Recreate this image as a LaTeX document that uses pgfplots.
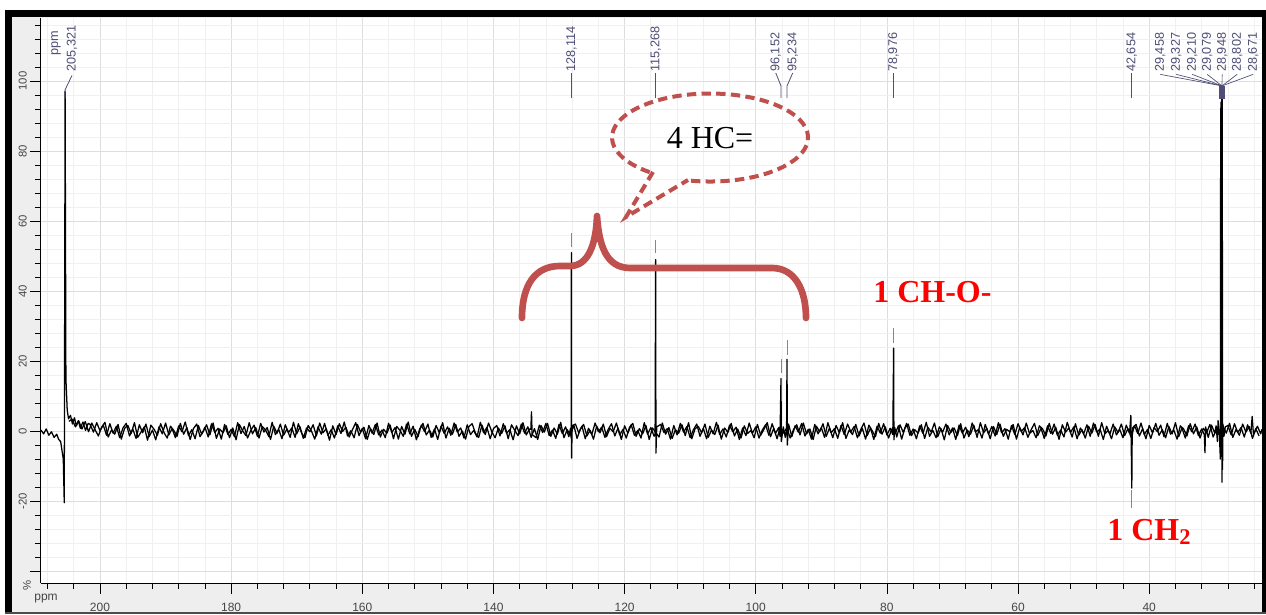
\documentclass[border=0pt]{standalone}
\usepackage{pgfplots}
\pgfplotsset{compat=1.18}
\usepackage{fontspec}
\setmainfont{Liberation Sans}
\newfontfamily\timesfont{Liberation Serif}
\definecolor{lab}{RGB}{78,78,118}
\definecolor{labpale}{RGB}{130,130,170}
\definecolor{brace}{RGB}{192,80,77}
\definecolor{panel}{RGB}{238,238,238}
\definecolor{ticklab}{RGB}{70,70,70}
\tikzset{
  plab/.style={rotate=90, anchor=west, inner sep=0pt, text=lab, font=\fontsize{9.5}{10}\selectfont},
  px/.style={x=0.75pt, y=-0.75pt, shift={(-30.75pt,437.25pt)}}
}
\begin{document}
\begin{tikzpicture}
% frame of the screenshot (pixel coordinates)
\begin{scope}[px]
  \path[use as bounding box] (0,0) rectangle (1266,614);
  \fill[panel] (12,17) rectangle (1262,612);
  \fill[black] (5,10) rectangle (1266,17);
  \fill[black] (5,10) rectangle (12,614);
  \fill[black] (1262,10) rectangle (1266,614);
  \fill[black!70] (5,612) rectangle (1266,614);
\end{scope}

\begin{axis}[
    scale only axis,
    width=915.75pt, height=423.75pt,
    xmin=22.8, xmax=209, ymin=-43.4, ymax=118,
    x dir=reverse,
    clip=false,
    axis x line*=bottom, axis y line*=left,
    axis line style={-, black, line width=0.75pt},
    axis background/.style={fill=white},
    xtick={20,40,...,220}, minor x tick num=4,
    ytick={-60,-40,...,120}, minor y tick num=4,
    grid=both,
    major grid style={draw=black!13, line width=0.6pt},
    minor grid style={draw=black!6, line width=0.6pt},
    tick align=outside,
    major tick length=8.25pt, minor tick length=4.5pt,
    tick style={black, line width=0.6pt},
    /pgf/number format/assume math mode=true,
    yticklabel={\ifdim\tick pt<-30pt\else\pgfmathprintnumber{\tick}\fi},
    xticklabel style={anchor=north, inner sep=0pt, text=ticklab, font=\fontsize{9}{10}\selectfont},
    yticklabel style={rotate=90, anchor=south, inner sep=0pt, text=ticklab, font=\fontsize{8.5}{10}\selectfont},
    xticklabel shift=7pt,
    yticklabel shift=2.25pt,
  ]
% spectrum trace
\addplot[black, line width=0.95pt, line join=round] coordinates {
(209.0,0.3) (208.6,-0.8) (208.2,0.6) (207.8,-1.2) (207.4,-0.2) (207.0,-1.8) (206.6,-0.9) (206.3,-2.4) (206.0,-3.0)
(205.8,-5.5) (205.6,-8) (205.45,-20.5) (205.32,97) (205.2,15) (205.0,6) (204.8,3.5) (204.5,4.5) (204.2,2)
(203.9,3.8) (203.6,1.5) (203.3,3) (203.0,0.8) (202.6,2.6) (202.2,0.2) (201.8,2.2)
(201.5,1.9) (201.0,-0.3) (200.5,2.4) (200.0,0.1) (199.5,1.7) (199.0,-1.2) (198.5,2.1) (198.0,-0.6) (197.5,1.4) (197.0,-1.9)
(196.5,0.9) (196.0,2.2) (195.5,-1.4) (195.0,0.6) (194.5,-2.1) (194.0,1.8) (193.5,-0.5) (193.0,2.0) (192.5,-1.6) (192.0,0.3)
(191.5,-2.5) (191.0,1.2) (190.5,-0.8) (190.0,2.3) (189.5,-1.1) (189.0,0.7) (188.5,-1.9) (188.0,1.5) (187.5,-0.2) (187.0,2.6)
(186.5,-1.3) (186.0,0.4) (185.5,-2.2) (185.0,1.6) (184.5,-0.9) (184.0,1.1) (183.5,-1.7) (183.0,2.1) (182.5,-0.4) (182.0,0.8)
(181.5,-2.3) (181.0,1.9) (180.5,-1.0) (180.0,0.5) (179.5,-1.6) (179.0,2.4) (178.5,-0.7) (178.0,1.3) (177.5,-2.0) (177.0,0.2)
(176.5,1.7) (176.0,-1.5) (175.5,2.2) (175.0,-0.3) (174.5,1.0) (174.0,-2.4) (173.5,1.4) (173.0,-0.6) (172.5,2.0) (172.0,-1.2)
(171.5,0.6) (171.0,-1.8) (170.5,2.5) (170.0,-0.8) (169.5,1.2) (169.0,-2.1) (168.5,0.9) (168.0,-0.2) (167.5,1.8) (167.0,-1.4)
(166.5,2.3) (166.0,-0.5) (165.5,0.7) (165.0,-2.6) (164.5,1.5) (164.0,-1.0) (163.5,2.1) (163.0,-0.1) (162.5,1.1) (162.0,-1.7)
(161.5,0.4) (161.0,2.4) (160.5,-1.3) (160.0,0.8) (159.5,-2.2) (159.0,1.6) (158.5,-0.6) (158.0,1.9) (157.5,-1.1) (157.0,0.3)
(156.5,-1.9) (156.0,2.2) (155.5,-0.4) (155.0,1.0) (154.5,-2.3) (154.0,1.3) (153.5,-0.9) (153.0,2.6) (152.5,-1.5) (152.0,0.5)
(151.5,-1.6) (151.0,1.7) (150.5,-0.2) (150.0,2.0) (149.5,-1.8) (149.0,0.6) (148.5,-2.4) (148.0,1.4) (147.5,-0.7) (147.0,1.2)
(146.5,-1.2) (146.0,2.3) (145.5,-0.3) (145.0,0.9) (144.5,-2.0) (144.0,1.8) (143.5,-1.0) (143.0,0.2) (142.5,-1.7) (142.0,2.5)
(141.5,-0.5) (141.0,1.1) (140.5,-2.2) (140.0,0.7) (139.5,1.6) (139.0,-1.4) (138.5,2.1) (138.0,-0.6) (137.5,0.4) (137.0,-2.5)
(136.5,1.5) (136.0,-0.8) (135.5,2.4) (135.0,-1.1) (134.5,0.6)
(134.3,0.5) (134.2,5.5) (134.1,-1)
(133.5,-1.9) (133.0,1.7) (132.5,-0.4) (132.0,2.2) (131.5,-1.3) (131.0,0.3) (130.5,-2.1) (130.0,1.9) (129.5,-0.7) (129.0,1.2) (128.5,-1.6)
(128.25,0.8) (128.15,-2) (128.114,51) (128.08,-7.7) (128.0,1.5)
(127.5,2.0) (127.0,-0.5) (126.5,1.4) (126.0,-2.2) (125.5,0.8) (125.0,-1.0) (124.5,2.3) (124.0,-0.2) (123.5,1.1) (123.0,-1.8)
(122.5,0.5) (122.0,2.1) (121.5,-1.4) (121.0,0.9) (120.5,-2.4) (120.0,1.5) (119.5,-0.6) (119.0,1.8) (118.5,-1.2) (118.0,0.2)
(117.5,-2.0) (117.0,2.4) (116.5,-0.9) (116.0,1.0) (115.5,-1.5)
(115.35,-1) (115.268,49) (115.22,-6.3) (115.1,1.2)
(114.5,1.9) (114.0,-0.4) (113.5,0.7) (113.0,-2.3) (112.5,1.6) (112.0,-1.1) (111.5,2.2) (111.0,-0.3) (110.5,1.3) (110.0,-1.9)
(109.5,0.4) (109.0,2.0) (108.5,-1.5) (108.0,0.8) (107.5,-2.2) (107.0,1.4) (106.5,-0.8) (106.0,2.5) (105.5,-1.0) (105.0,0.6)
(104.5,-1.7) (104.0,1.7) (103.5,-0.2) (103.0,1.1) (102.5,-2.4) (102.0,0.9) (101.5,-1.3) (101.0,2.3) (100.5,-0.6) (100.0,1.2)
(99.5,-2.0) (99.0,0.3) (98.5,1.8) (98.0,-1.2) (97.5,2.1) (97.0,-0.7) (96.5,1.0)
(96.3,-1.5) (96.152,15) (96.1,-3) (95.8,1.2) (95.5,-1.8) (95.3,0.5) (95.234,20.5) (95.18,-4) (95.0,2)
(94.5,-1.6) (94.0,1.5) (93.5,-0.3) (93.0,2.2) (92.5,-1.4) (92.0,0.5) (91.5,-2.3) (91.0,1.9) (90.5,-0.8) (90.0,1.0)
(89.5,-1.8) (89.0,2.4) (88.5,-0.5) (88.0,0.7) (87.5,-2.1) (87.0,1.6) (86.5,-1.0) (86.0,2.0) (85.5,-0.2) (85.0,1.3)
(84.5,-1.9) (84.0,0.4) (83.5,2.3) (83.0,-1.3) (82.5,0.9) (82.0,-2.4) (81.5,1.4) (81.0,-0.6) (80.5,2.1) (80.0,-1.1) (79.5,0.8)
(79.1,-1) (78.976,23.7) (78.93,-2.5) (78.8,1)
(78.5,-1.7) (78.0,1.8) (77.5,-0.4) (77.0,2.2) (76.5,-1.2) (76.0,0.6) (75.5,-2.2) (75.0,1.5) (74.5,-0.7) (74.0,2.5)
(73.5,-1.5) (73.0,0.2) (72.5,-1.9) (72.0,1.2) (71.5,-0.3) (71.0,2.0) (70.5,-1.1) (70.0,0.9) (69.5,-2.4) (69.0,1.7)
(68.5,-0.6) (68.0,1.1) (67.5,-1.6) (67.0,2.3) (66.5,-0.2) (66.0,0.5) (65.5,-2.0) (65.0,1.9) (64.5,-0.9) (64.0,1.3)
(63.5,-1.4) (63.0,2.4) (62.5,-0.5) (62.0,0.7) (61.5,-2.3) (61.0,1.6) (60.5,-1.0) (60.0,2.1) (59.5,-0.1) (59.0,1.0)
(58.5,-1.8) (58.0,0.4) (57.5,2.2) (57.0,-1.3) (56.5,0.8) (56.0,-2.1) (55.5,1.5) (55.0,-0.7) (54.5,2.0) (54.0,-1.2)
(53.5,0.3) (53.0,-1.7) (52.5,2.5) (52.0,-0.4) (51.5,1.2) (51.0,-2.2) (50.5,0.9) (50.0,-0.8) (49.5,1.8) (49.0,-1.5)
(48.5,2.3) (48.0,-0.3) (47.5,0.6) (47.0,-2.4) (46.5,1.4) (46.0,-0.9) (45.5,2.0) (45.0,-1.1) (44.5,0.5) (44.0,-1.9)
(43.5,1.7) (43.0,-0.6)
(42.8,4.5) (42.654,-16.3) (42.6,-2) (42.5,1)
(42.0,1.9) (41.5,-1.4) (41.0,0.7) (40.5,-2.2) (40.0,1.6) (39.5,-0.5) (39.0,2.2) (38.5,-1.2) (38.0,0.4) (37.5,-1.9)
(37.0,1.3) (36.5,-0.8) (36.0,2.4) (35.5,-1.6) (35.0,0.9) (34.5,-2.0) (34.0,1.5) (33.5,-0.2) (33.0,2.0) (32.5,-1.3)
(32.0,0.6) (31.6,-1.0) (31.5,-6.2) (31.4,1.2) (31.0,-1.8) (30.5,1.7) (30.0,-0.6)
(29.8,1.5) (29.6,-3) (29.5,3) (29.3,-1) (29.15,-8) (29.1,90) (29.05,94) (29.0,-2) (28.95,97) (28.9,-14.6) (28.86,95)
(28.82,-11) (28.75,2) (28.6,-1.5) (28.4,1.2)
(28.0,1.6) (27.5,-1.1) (27.0,2.1) (26.5,-0.4) (26.0,1.0) (25.5,-1.7) (25.0,1.8) (24.5,-0.6) (24.3,4.2) (24.1,-1.0)
(23.5,1.4) (23.0,-0.8) (22.8,0.5)
};
% interleaved baseline noise (read between the points above)
\addplot[black, line width=0.95pt, line join=round] coordinates {
(204.75,2.8) (204.25,3.4) (203.75,1.2) (203.25,2.9) (202.75,0.6) (202.25,2.7) (201.75,-0.2) (201.25,2.3) (200.75,0.4) (200.25,-1.4)
(199.75,1.1) (199.25,2.5) (198.75,-1.7) (198.25,0.3) (197.75,-0.9) (197.25,1.9) (196.75,-2.3) (196.25,0.8) (195.75,1.6) (195.25,-0.7)
(194.75,2.4) (194.25,-1.8) (193.75,-0.3) (193.25,1.2) (192.75,-2.6) (192.25,1.7) (191.75,0.5) (191.25,-1.2) (190.75,2.1) (190.25,-0.4)
(189.75,-2.0) (189.25,1.4) (188.75,0.2) (188.25,-1.5) (187.75,2.2) (187.25,-0.9) (186.75,1.0) (186.25,-2.4) (185.75,0.7) (185.25,2.0)
(184.75,-1.6) (184.25,-0.1) (183.75,1.8) (183.25,-1.1) (182.75,2.3) (182.25,-2.1) (181.75,0.6) (181.25,-0.5) (180.75,1.5) (180.25,-1.9)
(179.75,0.9) (179.25,-2.5) (178.75,1.9) (178.25,0.1) (177.75,-1.3) (177.25,2.4) (176.75,-0.8) (176.25,1.0) (175.75,-2.0) (175.25,1.3)
(174.75,0.3) (174.25,-1.6) (173.75,2.5) (173.25,-1.0) (172.75,0.5) (172.25,-2.2) (171.75,1.8) (171.25,-0.4) (170.75,0.9) (170.25,-1.8)
(169.75,2.1) (169.25,-0.6) (168.75,-1.9) (168.25,1.6) (167.75,0.0) (167.25,-2.3) (166.75,1.2) (166.25,-0.9) (165.75,2.2) (165.25,-1.2)
(164.75,0.4) (164.25,-2.0) (163.75,1.5) (163.25,-0.7) (162.75,2.6) (162.25,-1.4) (161.75,0.1) (161.25,-1.9) (160.75,1.9) (160.25,-0.3)
(159.75,1.1) (159.25,-2.4) (158.75,0.7) (158.25,-1.0) (157.75,2.3) (157.25,-1.7) (156.75,0.5) (156.25,-0.6) (155.75,1.7) (155.25,-2.2)
(154.75,1.3) (154.25,0.2) (153.75,-1.5) (153.25,2.0) (152.75,-0.8) (152.25,1.4) (151.75,-2.5) (151.25,0.6) (150.75,2.2) (150.25,-1.1)
(149.75,0.3) (149.25,-1.7) (148.75,1.6) (148.25,-0.5) (147.75,2.4) (147.25,-2.0) (146.75,0.8) (146.25,-0.9) (145.75,1.9) (145.25,-1.5)
(144.75,0.0) (144.25,-2.3) (143.75,1.3) (143.25,2.1) (142.75,-0.6) (142.25,-1.8) (141.75,1.7) (141.25,-1.0) (140.75,2.3) (140.25,-0.2)
(139.75,-1.9) (139.25,0.9) (138.75,-0.7) (138.25,1.5) (137.75,-2.2) (137.25,1.8) (136.75,0.2) (136.25,-1.3) (135.75,2.0) (135.25,-0.6)
(134.75,1.2) (134.25,-1.8) (133.75,0.7) (133.25,-2.4) (132.75,1.6) (132.25,-0.3) (131.75,2.2) (131.25,-1.5) (130.75,0.9) (130.25,-0.9)
(129.75,2.5) (129.25,-1.9) (128.75,0.4) (128.25,-1.2) (127.75,1.7) (127.25,-2.1) (126.75,0.6) (126.25,1.9) (125.75,-1.4) (125.25,0.2)
(124.75,-2.3) (124.25,1.4) (123.75,-0.5) (123.25,2.0) (122.75,-1.6) (122.25,0.8) (121.75,-0.2) (121.25,2.3) (120.75,-1.1) (120.25,0.5)
(119.75,-2.0) (119.25,1.1) (118.75,2.2) (118.25,-1.5) (117.75,0.7) (117.25,-0.8) (116.75,1.6) (116.25,-2.4) (115.75,0.9) (115.25,-0.4)
(114.75,-1.7) (114.25,2.3) (113.75,-0.9) (113.25,1.0) (112.75,-2.1) (112.25,0.4) (111.75,-0.6) (111.25,1.8) (110.75,-1.3) (110.25,2.4)
(109.75,-2.2) (109.25,0.7) (108.75,1.3) (108.25,-0.5) (107.75,2.0) (107.25,-1.8) (106.75,0.3) (106.25,-1.0) (105.75,1.7) (105.25,-2.3)
(104.75,0.9) (104.25,-0.4) (103.75,2.2) (103.25,-1.4) (102.75,0.6) (102.25,-2.0) (101.75,1.5) (101.25,-0.7) (100.75,0.2) (100.25,-1.9)
(99.75,1.9) (99.25,-1.2) (98.75,0.5) (98.25,2.4) (97.75,-1.6) (97.25,0.8) (96.75,-2.2) (96.25,1.3) (95.75,-0.6) (95.25,1.0)
(94.75,-2.0) (94.25,0.4) (93.75,1.8) (93.25,-1.1) (92.75,2.3) (92.25,-0.8) (91.75,0.6) (91.25,-2.4) (90.75,1.4) (90.25,-0.2)
(89.75,2.1) (89.25,-1.5) (88.75,0.9) (88.25,-1.9) (87.75,1.6) (87.25,-0.5) (86.75,2.4) (86.25,-2.1) (85.75,0.3) (85.25,-1.0)
(84.75,1.9) (84.25,-1.4) (83.75,0.8) (83.25,-2.3) (82.75,1.7) (82.25,0.1) (81.75,-1.6) (81.25,2.2) (80.75,-0.9) (80.25,1.2)
(79.75,-2.0) (79.25,0.6) (78.75,-0.8) (78.25,1.5) (77.75,-2.3) (77.25,0.9) (76.75,2.0) (76.25,-1.3) (75.75,0.4) (75.25,-0.6)
(74.75,1.8) (74.25,-2.1) (73.75,1.1) (73.25,-0.3) (72.75,2.3) (72.25,-1.6) (71.75,0.7) (71.25,-2.5) (70.75,1.6) (70.25,-0.4)
(69.75,0.9) (69.25,-1.3) (68.75,2.1) (68.25,-2.0) (67.75,0.3) (67.25,-0.9) (66.75,1.7) (66.25,-1.8) (65.75,2.4) (65.25,-0.5)
(64.75,0.8) (64.25,-2.2) (63.75,1.3) (63.25,-1.0) (62.75,2.0) (62.25,-1.5) (61.75,0.5) (61.25,-0.2) (60.75,1.9) (60.25,-2.3)
(59.75,1.0) (59.25,-1.1) (58.75,2.3) (58.25,-0.7) (57.75,0.2) (57.25,-1.9) (56.75,1.5) (56.25,0.6) (55.75,-1.4) (55.25,2.2)
(54.75,-0.9) (54.25,1.1) (53.75,-2.4) (53.25,1.8) (52.75,-0.3) (52.25,0.9) (51.75,-1.7) (51.25,2.1) (50.75,-1.2) (50.25,0.4)
(49.75,-2.0) (49.25,1.4) (48.75,-0.6) (48.25,1.9) (47.75,-1.5) (47.25,2.4) (46.75,-0.8) (46.25,0.2) (45.75,-2.2) (45.25,1.2)
(44.75,-0.4) (44.25,2.0) (43.75,-1.3) (43.25,0.7) (42.75,-1.8) (42.25,1.6) (41.75,-0.7) (41.25,2.3) (40.75,-1.0) (40.25,0.5)
(39.75,-2.1) (39.25,1.0) (38.75,-0.2) (38.25,1.7) (37.75,-1.6) (37.25,2.2) (36.75,-0.9) (36.25,0.3) (35.75,-2.3) (35.25,1.5)
(34.75,0.6) (34.25,-1.4) (33.75,2.1) (33.25,-0.8) (32.75,1.2) (32.25,-2.0) (31.75,0.8) (31.25,-0.5) (30.75,1.9) (30.25,-1.7)
(29.75,0.4) (29.25,-1.0) (28.75,1.5) (28.25,-0.6) (27.75,2.2) (27.25,-1.8) (26.75,0.5) (26.25,-1.2) (25.75,2.0) (25.25,-0.3)
(24.75,1.3) (24.25,-2.1) (23.75,0.7) (23.25,-1.4)
};

% peak labels
\draw[lab, line width=0.6pt] (205.321,95) -- (205.321,97.5) -- (204.27,101.6);
\node[plab] at (204.27,102.6) {205,321};
\node[rotate=90, inner sep=0pt, text=lab, font=\fontsize{9.5}{10}\selectfont] at (206.7,110.9) {ppm};
\draw[lab, line width=0.6pt] (128.114,95.1) -- (128.114,102.3);
\node[plab] at (128.114,102.6) {128,114};
\draw[lab, line width=0.6pt] (115.268,95.1) -- (115.268,102.3);
\node[plab] at (115.268,102.6) {115,268};
\draw[lab, line width=0.6pt] (96.152,95.1) -- (96.152,98.6) -- (96.95,102.3);
\node[plab] at (96.95,102.6) {96,152};
\draw[lab, line width=0.6pt] (95.234,95.1) -- (95.234,98.6) -- (94.36,102.3);
\node[plab] at (94.36,102.6) {95,234};
\draw[lab, line width=0.6pt] (78.976,95.1) -- (78.976,102.3);
\node[plab] at (78.976,102.6) {78,976};
\draw[lab, line width=0.6pt] (42.654,95.1) -- (42.654,102.3);
\node[plab] at (42.654,102.6) {42,654};
\fill[lab] (29.33,94.9) rectangle (28.41,98.6);
\draw[lab, line width=0.5pt] (28.9,98.6) -- (38.32,101.9);
\draw[lab, line width=0.5pt] (28.9,98.6) -- (35.88,101.9);
\draw[lab, line width=0.5pt] (28.9,98.6) -- (33.45,101.9);
\draw[lab, line width=0.5pt] (28.9,98.6) -- (31.16,101.9);
\draw[lab, line width=0.5pt] (28.9,98.6) -- (28.87,101.9);
\draw[lab, line width=0.5pt] (28.9,98.6) -- (26.59,101.9);
\draw[lab, line width=0.5pt] (28.9,98.6) -- (24.15,101.9);
\node[plab] at (38.32,102.6) {29,458};
\node[plab] at (35.88,102.6) {29,327};
\node[plab] at (33.45,102.6) {29,210};
\node[plab] at (31.16,102.6) {29,079};
\node[plab] at (28.87,102.6) {28,948};
\node[plab] at (26.59,102.6) {28,802};
\node[plab] at (24.15,102.6) {28,671};
% peak-pick marks
\draw[labpale, line width=0.6pt] (128.114,52.6) -- (128.114,56.6);
\draw[labpale, line width=0.6pt] (115.268,50.9) -- (115.268,54.6);
\draw[labpale, line width=0.6pt] (96.152,16.6) -- (96.152,20.6);
\draw[labpale, line width=0.6pt] (95.234,21.7) -- (95.234,26);
\draw[labpale, line width=0.6pt] (78.976,25.1) -- (78.976,29.4);
\draw[labpale, line width=0.6pt] (42.654,-16.9) -- (42.654,-22);
\end{axis}

% annotations (pixel coordinates)
\begin{scope}[px]
  \node[text=ticklab, font=\fontsize{9}{10}\selectfont, inner sep=0pt] at (46,599) {ppm};
  \node[rotate=90, text=ticklab, font=\fontsize{8.5}{10}\selectfont, inner sep=0pt] at (27,585) {\%};
  \draw[brace, line width=5pt, line cap=round, line join=round]
    (522,318) .. controls (522,285) and (535,266) .. (560,266) -- (570,266)
    .. controls (588,266) and (596,245) .. (597,216)
    .. controls (599,245) and (606,268) .. (630,268) -- (772,268)
    .. controls (795,268) and (806,290) .. (806,318);
  \draw[brace, line width=3pt, dash pattern=on 7pt off 4pt]
    (649.7,172.2) arc[start angle=128, end angle=463, x radius=98, y radius=44];
  \draw[brace, line width=3pt, dash pattern=on 7pt off 4pt] (653,172) -- (626,217) -- (688,180);
  \node[font=\timesfont\fontsize{24}{26}\selectfont, inner sep=0pt] at (710,138) {4 HC=};
  \node[anchor=base west, inner sep=0pt, text=red, font=\timesfont\bfseries\fontsize{24}{26}\selectfont] at (873,303) {1 CH-O-};
  \node[anchor=base west, inner sep=0pt, text=red, font=\timesfont\bfseries\fontsize{24}{26}\selectfont] at (1107,540) {1 CH\textsubscript{2}};
\end{scope}
\end{tikzpicture}
\end{document}
